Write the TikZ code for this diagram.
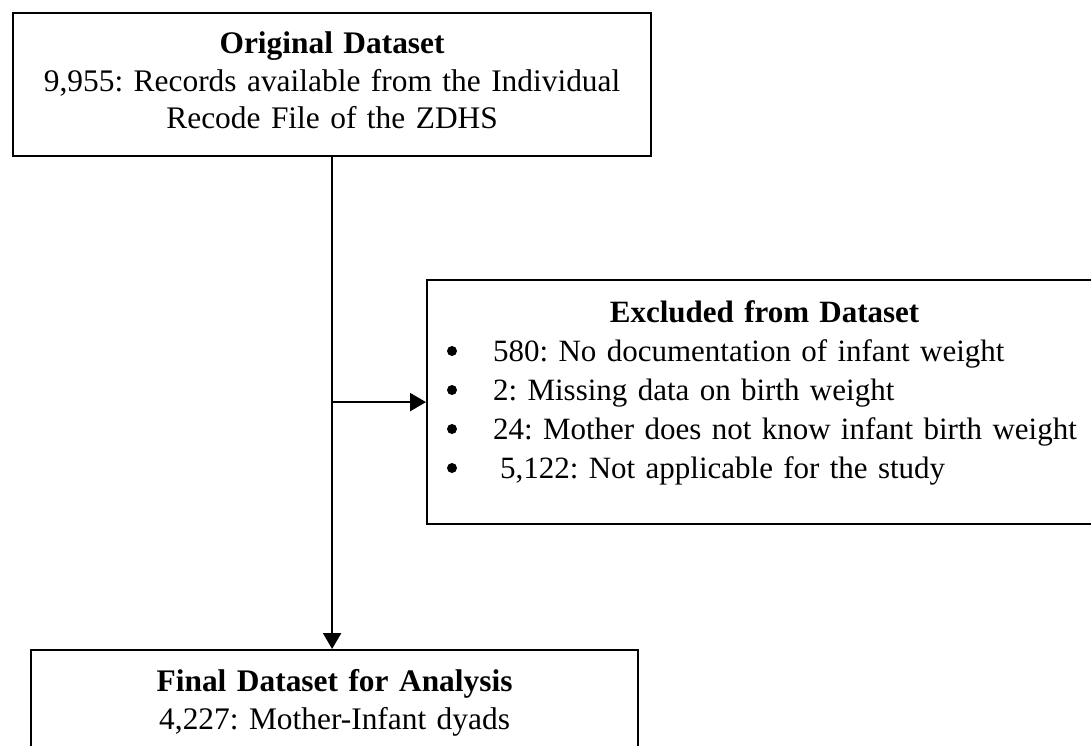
\documentclass[tikz,border=0pt]{standalone}
\usepackage{fontspec}
\setmainfont{Liberation Serif}
\usetikzlibrary{arrows.meta,calc}
\setlength{\parindent}{0pt}
\frenchspacing

\begin{document}
\begin{tikzpicture}[x=1pt,y=-1pt,
  box/.style={draw, rectangle, line width=2.2pt, inner xsep=14pt, inner ysep=0pt,
    font=\fontsize{31.4}{37.5}\selectfont},
  flow/.style={line width=2.4pt, -{Triangle[length=16pt,width=18pt]}}]

% ----- Canvas -----
\clip (0,0) rectangle (1091,746);

% ----- Boxes -----
\node[box, anchor=north west, minimum width=638pt, minimum height=143pt,
      text width=610pt, align=center] (orig) at (12,12)
  {\textbf{Original Dataset}\\
   9,955: Records available from the Individual\\
   Recode File of the ZDHS\rule[-8pt]{0pt}{8pt}};

\node[box, anchor=north west, minimum width=675pt, minimum height=244pt,
      text width=647pt, align=left, font=\fontsize{31}{39}\selectfont] (excl) at (426,279)
  {\hfil\textbf{Excluded from Dataset}\\
   \mbox{\hspace{52pt}580: No documentation of infant weight}\\
   \mbox{\hspace{52pt}2: Missing data on birth weight}\\
   \mbox{\hspace{52pt}24: Mother does not know infant birth weight}\\
   \mbox{\hspace{59pt}5,122: Not applicable for the study}\rule[-26pt]{0pt}{26pt}};

\node[box, anchor=north west, minimum width=607pt, minimum height=105pt,
      text width=579pt, align=center] (final) at (30,649)
  {\textbf{Final Dataset for Analysis}\\
   4,227: Mother-Infant dyads};

% ----- List dots -----
\foreach \k in {0,...,3}
  \fill ($(excl.north west)+(26,{72+39*\k})$) circle[radius=5pt];

% ----- Arrows -----
\draw[flow] (orig.south) -- (orig.south |- final.north);
\draw[flow] (orig.south |- excl.west) -- (excl.west);

\end{tikzpicture}
\end{document}
